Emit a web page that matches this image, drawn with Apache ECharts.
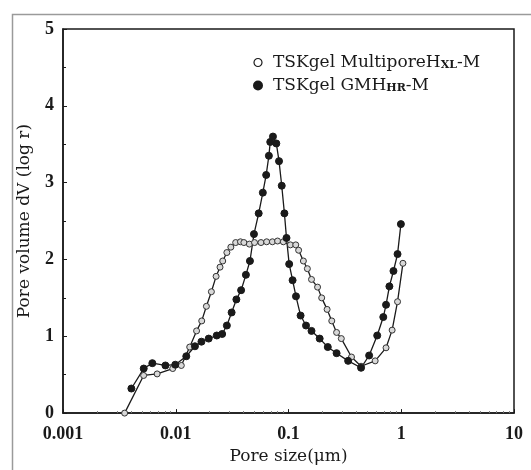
<!DOCTYPE html>
<html>
<head>
<meta charset="utf-8">
<script src="https://cdn.jsdelivr.net/npm/echarts@6/dist/echarts.min.js"></script>
<style>
  html,body{margin:0;padding:0;background:#fff;}
  #chart{width:531px;height:470px;}
</style>
</head>
<body>
<div id="chart"></div>
<script>
var seriesNames=['TSKgel MultiporeHXL-M','TSKgel GMHHR-M'];
var legendLabels=['TSKgel MultiporeH{sub|XL}-M','TSKgel GMH{sub|HR}-M'];
var xTicks=[0.001,0.01,0.1,1,10];
var yTicks=[0,1,2,3,4,5];

// open circles
var sizeMulti=[0.00352,0.00519,0.00684,0.0094,0.0112,0.0133,0.0153,0.017,0.0187,0.0207,0.0228,0.0247,0.0261,0.0284,0.0308,0.034,0.0375,0.0402,
    0.045,0.05,0.057,0.064,0.072,0.08,0.09,0.104,0.116,0.123,0.1355,0.147,0.16,0.181,0.197,0.22,0.242,0.267,0.294,0.362,0.44,0.587,0.733,0.83,0.927,1.035];
var volMulti=[0,0.49,0.51,0.58,0.62,0.86,1.07,1.2,1.39,1.58,1.78,1.9,1.98,2.09,2.16,2.22,2.23,2.22,
    2.2,2.22,2.22,2.23,2.23,2.24,2.23,2.19,2.19,2.12,1.98,1.88,1.74,1.64,1.5,1.35,1.2,1.05,0.97,0.73,0.61,0.68,0.85,1.08,1.45,1.95];

// filled circles
var sizeGMH=[0.00404,0.0052,0.0062,0.0081,0.0099,0.0124,0.0148,0.0169,0.0196,0.0231,0.0258,0.0284,0.0313,0.0345,0.038,0.0419,0.0455,0.0494,
    0.0544,0.0592,0.0634,0.067,0.0689,0.0728,0.078,0.0824,0.0871,0.092,0.096,0.1014,0.1087,0.1165,0.128,0.143,0.16,0.189,0.223,0.267,0.338,0.44,
    0.519,0.612,0.693,0.733,0.785,0.853,0.927,0.993];
var volGMH=[0.32,0.58,0.65,0.62,0.63,0.74,0.87,0.93,0.97,1.01,1.03,1.14,1.31,1.48,1.6,1.8,1.98,2.33,
    2.6,2.87,3.1,3.35,3.53,3.6,3.51,3.28,2.96,2.6,2.28,1.94,1.73,1.52,1.27,1.14,1.07,0.97,0.86,0.78,0.68,0.59,
    0.75,1.01,1.25,1.41,1.65,1.85,2.07,2.46];

function pairs(xs,ys){
    var out=[];
    for(var i=0;i<xs.length;i++){out.push([xs[i],ys[i]]);}
    return out;
}

var serif='"Liberation Serif","DejaVu Serif",serif';
var wideSerif='"DejaVu Serif","Liberation Serif",serif';
var ink='#1a1a1a';

var myChart=echarts.init(document.getElementById('chart'),null,{renderer:'canvas'});
var option={
    backgroundColor:'#fff',
    animation:false,
    grid:{left:63,right:17,top:29,bottom:41,show:true,borderColor:ink,borderWidth:1.5,backgroundColor:'transparent'},
    graphic:[{
        type:'rect',left:10,top:12,
        shape:{width:540,height:480},
        style:{fill:'none',stroke:'#9a9a9a',lineWidth:1.5},
        silent:true
    }],
    legend:{
        left:248,top:49,orient:'vertical',itemGap:6,itemWidth:8,itemHeight:8,
        data:[
            {name:seriesNames[0],icon:'circle',itemStyle:{color:'#fff',borderColor:ink,borderWidth:1.2}},
            {name:seriesNames[1],icon:'circle',itemStyle:{color:ink}}
        ],
        formatter:function(name){return legendLabels[seriesNames.indexOf(name)];},
        textStyle:{
            fontFamily:wideSerif,fontSize:17,color:ink,padding:[0,0,0,6],
            rich:{sub:{fontFamily:wideSerif,fontSize:11,fontWeight:'bold',color:ink,verticalAlign:'bottom',padding:[6,0,0,0]}}
        }
    },
    xAxis:{
        type:'log',logBase:10,min:xTicks[0],max:xTicks[xTicks.length-1],
        name:'Pore size(μm)',nameLocation:'middle',nameGap:25,
        nameTextStyle:{fontFamily:wideSerif,fontSize:17,color:ink},
        axisLine:{lineStyle:{color:ink,width:1.5}},
        axisTick:{inside:true,length:4,lineStyle:{color:ink}},
        minorTick:{show:true,splitNumber:9,length:2,lineStyle:{color:'#777'}},
        axisLabel:{fontFamily:serif,fontSize:18,fontWeight:'bold',color:ink,margin:12,
            formatter:function(v){return String(v);}},
        splitLine:{show:false}
    },
    yAxis:{
        type:'value',min:yTicks[0],max:yTicks[yTicks.length-1],interval:1,
        name:'Pore volume dV (log r)',nameLocation:'middle',nameGap:30,
        nameTextStyle:{fontFamily:wideSerif,fontSize:17,color:ink},
        axisLine:{show:true,lineStyle:{color:ink,width:1.5}},
        axisTick:{inside:true,length:4,lineStyle:{color:ink}},
        minorTick:{show:true,splitNumber:2,length:3,lineStyle:{color:ink}},
        axisLabel:{fontFamily:serif,fontSize:18,fontWeight:'bold',color:ink,margin:9},
        splitLine:{show:false}
    },
    series:[{
        name:seriesNames[0],type:'line',data:pairs(sizeMulti,volMulti),
        symbol:'circle',symbolSize:6,
        lineStyle:{color:ink,width:1.3},
        itemStyle:{color:'#d8d8d8',borderColor:'#333',borderWidth:1}
    },{
        name:seriesNames[1],type:'line',data:pairs(sizeGMH,volGMH),
        symbol:'circle',symbolSize:7,
        lineStyle:{color:ink,width:1.3},
        itemStyle:{color:ink,borderColor:ink,borderWidth:1}
    }]
};
myChart.setOption(option);
</script>
</body>
</html>
